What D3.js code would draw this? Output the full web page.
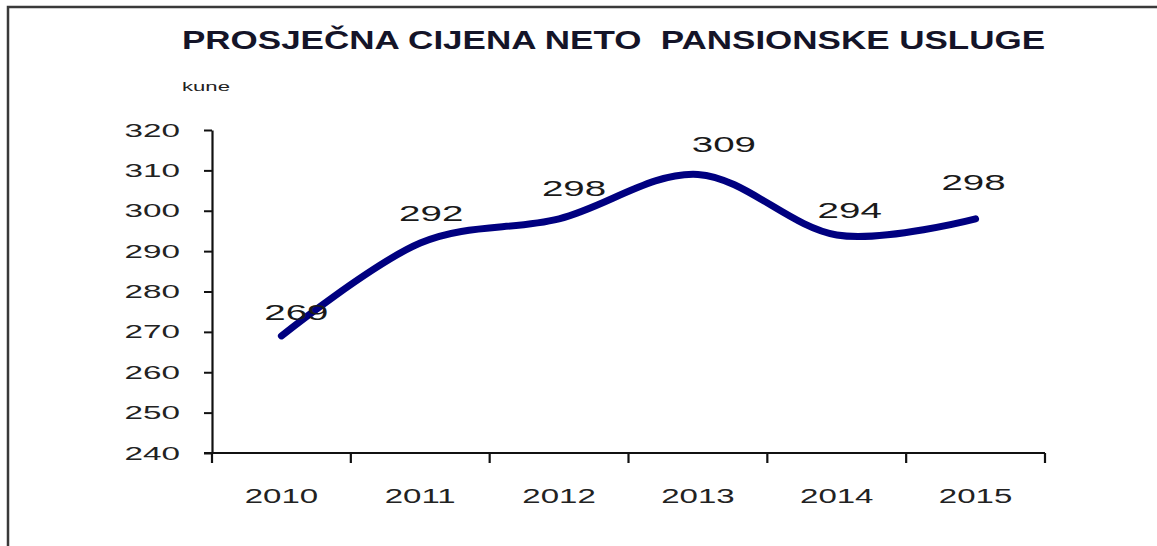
<!DOCTYPE html>
<html>
<head>
<meta charset="utf-8">
<script src="https://cdn.jsdelivr.net/npm/d3@7"></script>
<style>
  body { margin: 0; background: #fff; }
  svg { display: block; font-family: "Liberation Sans", Arial, sans-serif; }
</style>
</head>
<body>
<div id="body"></div>
<script>
// data
var years = ["2010", "2011", "2012", "2013", "2014", "2015"];
var prices = [269, 292, 298, 309, 294, 298];
var yTicks = [240, 250, 260, 270, 280, 290, 300, 310, 320];
var title = "PROSJEČNA CIJENA NETO  PANSIONSKE USLUGE";
var unit = "kune";

// label nudges (layout only), dx / dy from the point
var labelNudge = [[15, -16], [11, -22], [15, -23], [26, -22], [13, -17], [-2, -29]];

var width = 1157, height = 546;
var plot = {left: 212, right: 1045, top: 130, bottom: 453};

var svg = d3.select("#body").append("svg")
    .attr("width", width).attr("height", height);

// stretch text horizontally like the source image
function stretch(sel, k) {
  sel.each(function() {
    var len = this.getComputedTextLength();
    d3.select(this).attr("textLength", len * k).attr("lengthAdjust", "spacingAndGlyphs");
  });
}

// frame
svg.append("rect")
    .attr("x", 8).attr("y", 7)
    .attr("width", 1300).attr("height", 700)
    .attr("fill", "none").attr("stroke", "#3a3a3a").attr("stroke-width", 2.5);

var xScale = d3.scaleBand().domain(years).range([plot.left, plot.right]).padding(0);
var yScale = d3.scaleLinear().domain([240, 320]).range([plot.bottom, plot.top]);

// title + unit
svg.append("text")
    .attr("x", 182).attr("y", 49)
    .attr("font-size", 25).attr("font-weight", "bold").attr("fill", "#141428")
    .attr("xml:space", "preserve")
    .style("white-space", "pre")
    .text(title)
    .attr("textLength", 863).attr("lengthAdjust", "spacingAndGlyphs");

svg.append("text")
    .attr("x", 182).attr("y", 91)
    .attr("font-size", 12).attr("fill", "#222")
    .text(unit)
    .attr("textLength", 48).attr("lengthAdjust", "spacingAndGlyphs");

// y axis
var yAxis = svg.append("g")
    .attr("transform", "translate(" + plot.left + ",0)")
    .call(d3.axisLeft(yScale).tickValues(yTicks).tickSize(8).tickPadding(24).tickSizeOuter(0));
yAxis.select(".domain").attr("stroke", "#111").attr("stroke-width", 2.2);
yAxis.selectAll(".tick line").attr("stroke", "#111").attr("stroke-width", 2);
yAxis.selectAll(".tick text")
    .attr("font-size", 19).attr("fill", "#222").attr("font-family", "Liberation Sans, Arial, sans-serif")
    .call(stretch, 1.75);

// x axis: ticks at band edges
var xAxis = svg.append("g")
    .attr("transform", "translate(0," + plot.bottom + ")");
xAxis.append("line")
    .attr("x1", plot.left - 8).attr("x2", plot.right)
    .attr("stroke", "#111").attr("stroke-width", 2.2);
var edges = years.map(function(d) { return xScale(d); }).concat([plot.right]);
xAxis.selectAll(".xtick").data(edges).enter().append("line")
    .attr("class", "xtick")
    .attr("x1", function(d) { return d; }).attr("x2", function(d) { return d; })
    .attr("y1", 0).attr("y2", 10)
    .attr("stroke", "#111").attr("stroke-width", 2.2);
xAxis.selectAll(".xlabel").data(years).enter().append("text")
    .attr("class", "xlabel")
    .attr("x", function(d) { return xScale(d) + xScale.bandwidth() / 2; })
    .attr("y", 50)
    .attr("text-anchor", "middle")
    .attr("font-size", 20).attr("fill", "#222")
    .text(function(d) { return d; })
    .call(stretch, 1.65);

// line
var points = years.map(function(y, i) { return {year: y, value: prices[i]}; });
var line = d3.line()
    .x(function(d) { return xScale(d.year) + xScale.bandwidth() / 2; })
    .y(function(d) { return yScale(d.value); })
    .curve(d3.curveCardinal.tension(0));
svg.append("path")
    .attr("d", line(points))
    .attr("fill", "none")
    .attr("stroke", "#000080")
    .attr("stroke-width", 7)
    .attr("stroke-linecap", "round")
    .attr("stroke-linejoin", "round");

// data labels
svg.selectAll(".dlabel").data(points).enter().append("text")
    .attr("class", "dlabel")
    .attr("x", function(d, i) { return xScale(d.year) + xScale.bandwidth() / 2 + labelNudge[i][0]; })
    .attr("y", function(d, i) { return yScale(d.value) + labelNudge[i][1]; })
    .attr("text-anchor", "middle")
    .attr("font-size", 22).attr("fill", "#1a1a1a")
    .text(function(d) { return d.value; })
    .call(stretch, 1.75);
</script>
</body>
</html>
